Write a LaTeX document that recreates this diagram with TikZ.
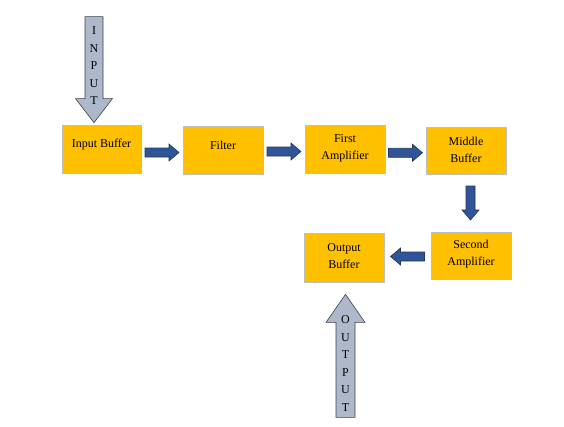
\documentclass[tikz,border=0pt]{standalone}
\usepackage{fontspec}
\setmainfont{Liberation Serif}
\usetikzlibrary{calc}
\definecolor{boxfill}{HTML}{FFC000}
\definecolor{boxedge}{HTML}{BFBFBF}
\definecolor{bluefill}{HTML}{2F5597}
\definecolor{blueedge}{HTML}{1F3864}
\definecolor{grayfill}{HTML}{ADB9CA}
\definecolor{grayedge}{HTML}{404040}
\tikzset{
  blk/.style={draw=boxedge, line width=0.8pt, fill=boxfill, minimum width=80pt, minimum height=48pt, inner sep=0pt},
  lbl/.style={font=\fontsize{12}{17.5}\selectfont, align=center, text=black},
  barrow/.pic={
    \draw[draw=blueedge, fill=bluefill, line width=0.6pt]
      (-17,-4.5) -- (7,-4.5) -- (7,-8.5) -- (17,0) -- (7,8.5) -- (7,4.5) -- (-17,4.5) -- cycle;
  },
  letters/.style={font=\fontsize{12}{17.5}\selectfont, align=center, inner sep=0pt}
}
\begin{document}
\begin{tikzpicture}[x=1pt,y=-1pt]
\useasboundingbox (0,0) rectangle (564,426);
% boxes
\node[blk, minimum width=79pt] (ib) at (101.5,149) {};
\node[lbl] (ibt) at ($(ib.center)+(0,-4.5)$) {Input Buffer};
\node[blk] (fi) at (223,150) {};
\node[lbl] (fit) at ($(fi.center)+(0,-4.5)$) {Filter};
\node[blk] (fa) at (345,149) {};
\node[lbl] (fat) at ($(fa.center)+(0,-0.5)$) {First\\Amplifier};
\node[blk, minimum height=47pt] (mb) at (466,150.5) {};
\node[lbl] (mbt) at ($(mb.center)+(0,-0.5)$) {Middle\\Buffer};
\node[blk, minimum height=47pt] (sa) at (471,255.5) {};
\node[lbl] (sat) at ($(sa.center)+(0,-1.5)$) {Second\\Amplifier};
\node[blk, minimum height=49pt] (ob) at (344,257.5) {};
\node[lbl] (obt) at ($(ob.center)+(0,-1.5)$) {Output\\Buffer};
% blue block arrows between boxes
\pic at ($(ib.east)!0.5!(fi.west)+(0,3)$) {barrow};
\pic at ($(fi.east)!0.5!(fa.west)+(0,2)$) {barrow};
\pic at ($(fa.east)!0.5!(mb.west)+(0,3)$) {barrow};
\pic[rotate=-90] at ($(mb.south)!0.5!(sa.north)+(2,0)$) {barrow};
\pic[rotate=180] at ($(sa.west)!0.5!(ob.east)+(0,0)$) {barrow};
% input arrow
\coordinate (intip) at ($(ib.north)+(-7.5,-2)$);
\draw[draw=grayedge, fill=grayfill, line width=0.6pt]
  ($(intip)+(-9,-106)$) -- ($(intip)+(9,-106)$) -- ($(intip)+(9,-24)$) -- ($(intip)+(18.5,-24)$)
  -- (intip) -- ($(intip)+(-18.5,-24)$) -- ($(intip)+(-9,-24)$) -- cycle;
\node[letters] (inl) at ($(intip)+(0,-57)$) {I\\N\\P\\U\\T};
% output arrow
\coordinate (outtip) at ($(ob.south)+(1.5,12)$);
\draw[draw=grayedge, fill=grayfill, line width=0.6pt]
  ($(outtip)+(-9.5,123)$) -- ($(outtip)+(9.5,123)$) -- ($(outtip)+(9.5,28)$) -- ($(outtip)+(19.5,28)$)
  -- (outtip) -- ($(outtip)+(-19.5,28)$) -- ($(outtip)+(-9.5,28)$) -- cycle;
\node[letters] (outl) at ($(outtip)+(0,69)$) {O\\U\\T\\P\\U\\T};
\end{tikzpicture}
\end{document}
